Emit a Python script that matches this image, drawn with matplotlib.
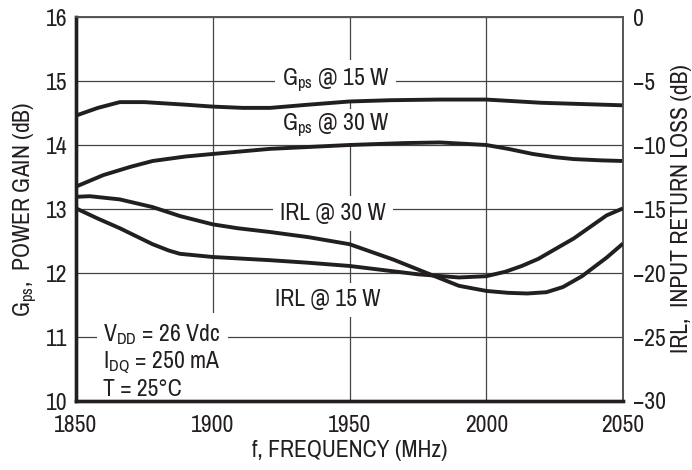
import matplotlib
matplotlib.use("Agg")
import matplotlib.pyplot as plt

FONT = ['Archivo Narrow', 'Roboto Condensed', 'Liberation Sans', 'DejaVu Sans']
plt.rcParams['font.family'] = FONT
plt.rcParams['mathtext.fontset'] = 'custom'
plt.rcParams['mathtext.rm'] = 'Archivo Narrow'
plt.rcParams['mathtext.it'] = 'Archivo Narrow'

INK = '#231f20'
FS = 17

# power gain (left axis, dB)
f_g15 = [1850, 1858, 1866, 1875, 1890, 1900, 1911, 1921, 1935, 1950, 1965, 1983, 2000, 2020, 2035, 2050]
g15 = [14.46, 14.58, 14.67, 14.67, 14.63, 14.60, 14.58, 14.58, 14.63, 14.68, 14.70, 14.71, 14.71, 14.66, 14.64, 14.62]

f_g30 = [1850, 1860, 1870, 1878, 1890, 1900, 1921, 1950, 1970, 1983, 2000, 2008, 2017, 2025, 2032, 2042, 2050]
g30 = [13.35, 13.53, 13.66, 13.75, 13.82, 13.86, 13.94, 14.00, 14.03, 14.04, 14.00, 13.94, 13.86, 13.81, 13.78, 13.76, 13.75]

# input return loss (right axis, dB)
f_irl30 = [1850, 1855, 1866, 1878, 1888, 1900, 1909, 1921, 1935, 1950, 1966, 1980, 1990, 2000, 2008, 2015, 2022, 2028, 2035, 2044, 2050]
irl30 = [-14.05, -14.0, -14.25, -14.85, -15.55, -16.2, -16.5, -16.8, -17.2, -17.75, -18.95, -20.15, -21.0, -21.4,
         -21.55, -21.6, -21.5, -21.1, -20.25, -18.8, -17.7]

f_irl15 = [1850, 1858, 1866, 1878, 1884, 1888, 1900, 1921, 1935, 1950, 1975, 1990, 2000, 2007, 2013, 2019, 2032, 2044, 2050]
irl15 = [-14.95, -15.75, -16.5, -17.75, -18.25, -18.5, -18.75, -19.0, -19.2, -19.45, -20.1, -20.35, -20.25, -19.9,
         -19.45, -18.9, -17.3, -15.5, -14.95]

fig = plt.figure(figsize=(6.92, 4.70), dpi=100)
ax = fig.add_axes([76/692, 69/470, 547/692, 384/470])
ax2 = ax.twinx()

ax.set_xlim(1850, 2050)
ax.set_ylim(10, 16)
ax2.set_ylim(-30, 0)
ax.set_xticks([1850, 1900, 1950, 2000, 2050])
ax.set_yticks(range(10, 17))
ax2.set_yticks(range(-30, 1, 5))
ax2.set_yticklabels(['\u221230', '\u221225', '\u221220', '\u221215', '\u221210', '\u22125', '0'])

ax.grid(True, color='#444444', linewidth=0.9, zorder=0)
ax.tick_params(axis='y', length=0, labelsize=FS, colors=INK, pad=6)
ax.tick_params(axis='x', length=0, labelsize=FS, colors=INK, pad=10)
ax2.tick_params(length=0, labelsize=FS, colors=INK, pad=7)

for a in (ax, ax2):
    a.spines['top'].set_color('#555555')
    a.spines['top'].set_linewidth(1.2)
    a.spines['right'].set_color('#555555')
    a.spines['right'].set_linewidth(1.2)
    a.spines['left'].set_color(INK)
    a.spines['left'].set_linewidth(2.4)
    a.spines['bottom'].set_color(INK)
    a.spines['bottom'].set_linewidth(2.4)

lw = 2.8
ax.plot(f_g15, g15, color=INK, lw=lw, solid_capstyle='butt', solid_joinstyle='round', zorder=3)
ax.plot(f_g30, g30, color=INK, lw=lw, solid_capstyle='butt', solid_joinstyle='round', zorder=3)
ax2.plot(f_irl30, irl30, color=INK, lw=lw, solid_capstyle='butt', solid_joinstyle='round', zorder=3)
ax2.plot(f_irl15, irl15, color=INK, lw=lw, solid_capstyle='butt', solid_joinstyle='round', zorder=3)

# curve labels sit on the left axis so the curves stay above their boxes
box = dict(facecolor='white', edgecolor='none', pad=5)
ax.text(1945, 15.0, r'G$_{\mathrm{ps}}$ @ 15 W', fontsize=FS, color=INK, ha='center', va='center', bbox=box, zorder=2)
ax.text(1945, 14.3, r'G$_{\mathrm{ps}}$ @ 30 W', fontsize=FS, color=INK, ha='center', va='center',
        bbox=dict(facecolor='white', edgecolor='none', pad=2), zorder=2)
ax.text(1944, 12.93, 'IRL @ 30 W', fontsize=FS, color=INK, ha='center', va='center', bbox=box, zorder=2)
ax.text(1942, 11.58, 'IRL @ 15 W', fontsize=FS, color=INK, ha='center', va='center', bbox=box, zorder=2)

ax.text(1860, 10.63, 'V$_{\\mathrm{DD}}$ = 26 Vdc\nI$_{\\mathrm{DQ}}$ = 250 mA\nT = 25\u00b0C',
        fontsize=FS, color=INK, ha='left', va='center', linespacing=1.15,
        bbox=dict(facecolor='white', edgecolor='none', pad=5), zorder=2)

ax.set_xlabel('f, FREQUENCY (MHz)', fontsize=FS, color=INK, labelpad=3)
ax.set_ylabel(r'G$_{\mathrm{ps}}$,  POWER GAIN (dB)', fontsize=FS, color=INK, labelpad=4)
ax2.set_ylabel('IRL,  INPUT RETURN LOSS (dB)', fontsize=FS, color=INK, labelpad=4)

fig.savefig('out.png', dpi=100)
